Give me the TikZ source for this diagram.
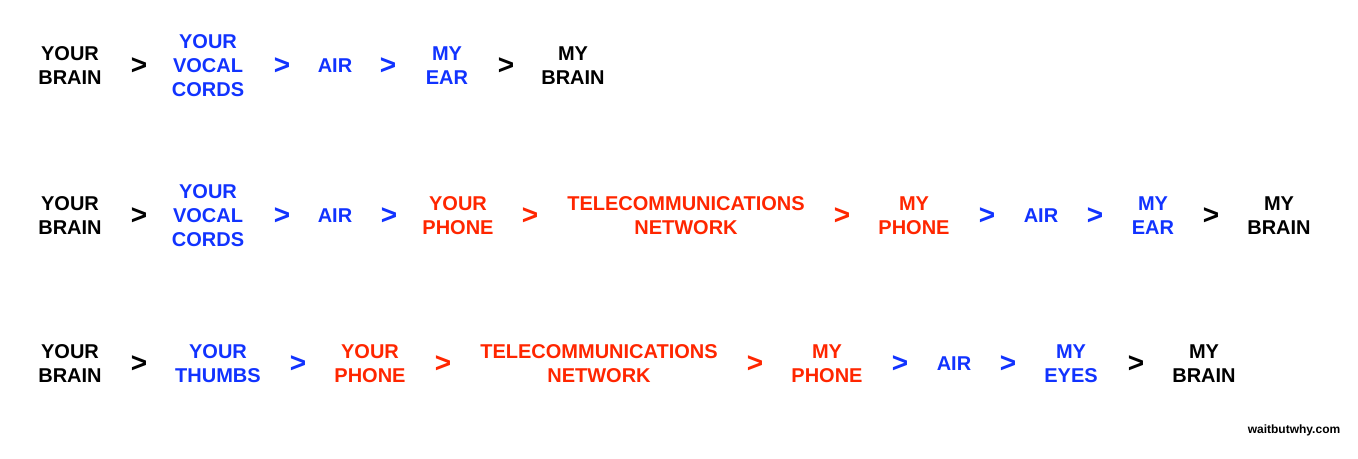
\documentclass[tikz,border=0pt]{standalone}
\usepackage{fontspec}
\setmainfont{Liberation Sans}
\usetikzlibrary{positioning}
\definecolor{wbwblue}{RGB}{17,51,255}
\definecolor{wbwred}{RGB}{255,38,0}

\begin{document}
\begin{tikzpicture}[x=0.75pt,y=-0.75pt,
  lbl/.style={font=\fontsize{15}{18}\selectfont\bfseries, align=center, inner sep=0pt},
  gt/.style={font=\fontsize{21}{24}\selectfont\bfseries, inner sep=0pt},
  site/.style={font=\fontsize{9}{11}\selectfont\bfseries, inner sep=0pt}]
	\useasboundingbox (0,0) rectangle (1358,458);

	% first row: talking face to face
	\foreach \x/\c/\t [count=\i] in {70/black/{YOUR\\BRAIN},
		208/wbwblue/{YOUR\\VOCAL\\CORDS}, 335/wbwblue/{AIR},
		447/wbwblue/{MY\\EAR}, 573/black/{MY\\BRAIN}}
		{\node[lbl, text=\c] (a\i) at (\x,66) {\t};}
	\foreach \x/\c [count=\i] in {139/black, 282/wbwblue, 388/wbwblue, 506/black}
		{\node[gt, text=\c] (ga\i) at (\x,66) {>};}

	% second row: on the phone
	\foreach \x/\c/\t [count=\i] in {70/black/{YOUR\\BRAIN},
		208/wbwblue/{YOUR\\VOCAL\\CORDS}, 335/wbwblue/{AIR},
		458/wbwred/{YOUR\\PHONE}, 686/wbwred/{TELECOMMUNICATIONS\\NETWORK},
		914/wbwred/{MY\\PHONE}, 1041/wbwblue/{AIR},
		1153/wbwblue/{MY\\EAR}, 1279/black/{MY\\BRAIN}}
		{\node[lbl, text=\c] (b\i) at (\x,216) {\t};}
	\foreach \x/\c [count=\i] in {139/black, 282/wbwblue, 389/wbwblue, 530/wbwred,
		842/wbwred, 987/wbwblue, 1095/wbwblue, 1211/black}
		{\node[gt, text=\c] (gb\i) at (\x,216) {>};}

	% third row: texting
	\foreach \x/\c/\t [count=\i] in {70/black/{YOUR\\BRAIN},
		218/wbwblue/{YOUR\\THUMBS}, 370/wbwred/{YOUR\\PHONE},
		599/wbwred/{TELECOMMUNICATIONS\\NETWORK}, 827/wbwred/{MY\\PHONE},
		954/wbwblue/{AIR}, 1071/wbwblue/{MY\\EYES}, 1204/black/{MY\\BRAIN}}
		{\node[lbl, text=\c] (c\i) at (\x,364) {\t};}
	\foreach \x/\c [count=\i] in {139/black, 298/wbwblue, 443/wbwred, 755/wbwred,
		900/wbwblue, 1008/wbwblue, 1136/black}
		{\node[gt, text=\c] (gc\i) at (\x,364) {>};}

	\node[site] (site) at (1294,430) {waitbutwhy.com};
\end{tikzpicture}
\end{document}
